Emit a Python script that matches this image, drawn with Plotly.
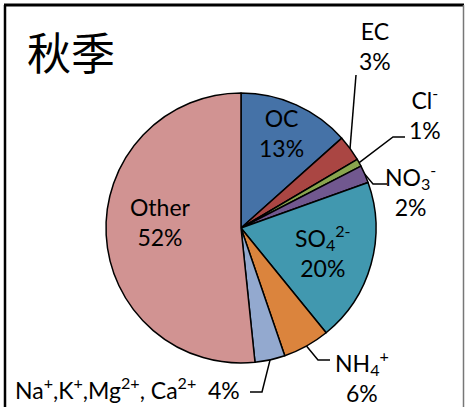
import math
import plotly.graph_objects as go

# Seasonal composition (autumn)
labels = ["OC", "EC", "Cl<sup>-</sup>", "NO<sub>3</sub><sup>-</sup>", "SO<sub>4</sub><sup>2-</sup>",
          "NH<sub>4</sub><sup>+</sup>", "Na<sup>+</sup>,K<sup>+</sup>,Mg<sup>2+</sup>, Ca<sup>2+</sup>", "Other"]
values = [13.4, 3.1, 0.9, 2.1, 19.6, 5.6, 3.6, 51.6]
colors = ["#4572A7", "#AA4643", "#89A54E", "#71588F", "#4198AF", "#DB843D", "#93A9CF", "#D19392"]
title_text = "秋季"

W, H = 465, 407
CX, CY, R = 241, 228, 135  # pie centre / radius in pixels
FONT = "Lato"
FS = 23

total = sum(values)
pct = [round(v / total * 100) for v in values]

# mid angle of each slice (clockwise from 12 o'clock)
mids = []
acc = 0
for v in values:
    mids.append((acc + v / 2) / total * 2 * math.pi)
    acc += v


def on_pie(i, frac):
    a = mids[i]
    return CX + frac * R * math.sin(a), CY - frac * R * math.cos(a)


fig = go.Figure()
fig.add_trace(go.Pie(
    labels=labels, values=values, sort=False, direction="clockwise", rotation=0,
    marker=dict(colors=colors, line=dict(color="black", width=1.5)),
    textinfo="none", hoverinfo="label+percent", showlegend=False,
    domain=dict(x=[(CX - R) / W, (CX + R) / W], y=[(H - CY - R) / H, (H - CY + R) / H]),
))

annotations = []
# labels inside the big slices: (radius fraction, vertical nudge in px)
inside = {0: (0.74, -4), 4: (0.63, 1), 7: (0.6, -10)}
for i, (f, dy) in inside.items():
    x, y = on_pie(i, f)
    annotations.append(dict(x=x, y=y + dy, text=f"{labels[i]}<br>{pct[i]}%"))

# outside labels with leader lines: (text pos, elbow points from label end)
outside = {
    1: dict(pos=(375, 46), path=[(356, 75)]),
    2: dict(pos=(425, 113), path=[(405, 137), (393, 137)]),
    3: dict(pos=(410, 190), path=[(387, 184), (373, 184)]),
    5: dict(pos=(362, 376), path=[(330, 360), (318, 360)]),
    6: dict(pos=(13, 388), path=[(250, 392), (262, 392)], one_line=True),
}
lx, ly = [], []
for i, o in outside.items():
    if o.get("one_line"):
        annotations.append(dict(x=o["pos"][0], y=o["pos"][1], xanchor="left",
                                text=f"{labels[i]}  {pct[i]}%"))
    else:
        annotations.append(dict(x=o["pos"][0], y=o["pos"][1], text=f"{labels[i]}<br>{pct[i]}%"))
    ax, ay = on_pie(i, 1.0)
    pts = o["path"] + [(ax, ay)]
    lx += [p[0] for p in pts] + [None]
    ly += [p[1] for p in pts] + [None]

fig.add_trace(go.Scatter(x=lx, y=ly, mode="lines", line=dict(color="black", width=1.5),
                         hoverinfo="skip", showlegend=False))

for a in annotations:
    a.update(xref="x", yref="y", showarrow=False, font=dict(family=FONT, size=FS, color="black"))

annotations.append(dict(x=71, y=51, xref="x", yref="y", text=title_text, showarrow=False,
                        font=dict(family="Noto Sans CJK SC", size=44, color="black")))

fig.update_layout(
    width=W, height=H, margin=dict(l=0, r=0, t=0, b=0),
    paper_bgcolor="white", plot_bgcolor="white",
    xaxis=dict(range=[0, W], visible=False, fixedrange=True),
    yaxis=dict(range=[H, 0], visible=False, fixedrange=True),
    annotations=annotations,
    shapes=[
        dict(type="line", xref="x", yref="y", x0=5, y0=5, x1=5, y1=H + 5, line=dict(color="black", width=2.5)),
        dict(type="line", xref="x", yref="y", x0=4, y0=5, x1=464, y1=5, line=dict(color="black", width=3)),
        dict(type="line", xref="x", yref="y", x0=463.5, y0=5, x1=463.5, y1=H + 5, line=dict(color="#777777", width=1.5)),
    ],
)

# drop the default page margin so the figure fills the window exactly
fig.write_html("out.html", config={"displayModeBar": False},
               post_script="document.body.style.margin='0';document.body.style.overflow='hidden';")
